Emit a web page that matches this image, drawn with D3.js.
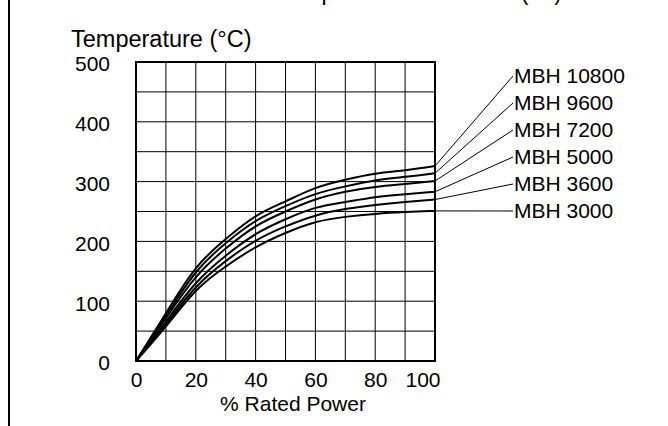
<!DOCTYPE html>
<html>
<head>
<meta charset="utf-8">
<script src="https://cdn.jsdelivr.net/npm/d3@7"></script>
<style>
  html, body { margin: 0; padding: 0; background: #fff; }
  svg { display: block; font-family: "Liberation Sans", Arial, sans-serif; }
</style>
</head>
<body>
<svg id="chart" width="668" height="426"></svg>
<script>
// ---- data ----
const power = [0, 10, 20, 30, 40, 50, 60, 70, 80, 90, 100];
const seriesNames = ["MBH 10800", "MBH 9600", "MBH 7200", "MBH 5000", "MBH 3600", "MBH 3000"];
const mbh10800 = [0, 80, 155, 204, 242, 267, 289, 303, 313, 319, 326];
const mbh9600  = [0, 76, 148, 197, 234, 259, 279, 292, 302, 308, 314];
const mbh7200  = [0, 72, 140, 188, 225, 250, 270, 283, 291, 296, 301];
const mbh5000  = [0, 66, 130, 176, 212, 237, 256, 266, 274, 279, 283];
const mbh3600  = [0, 62, 123, 167, 201, 225, 243, 254, 261, 266, 270];
const mbh3000  = [0, 58, 117, 158, 190, 214, 232, 241, 246, 249, 251];
const seriesValues = [mbh10800, mbh9600, mbh7200, mbh5000, mbh3600, mbh3000];
const xTicks = [0, 20, 40, 60, 80, 100];
const yTicks = [0, 100, 200, 300, 400, 500];
const xGrid = [0, 10, 20, 30, 40, 50, 60, 70, 80, 90, 100];
const yGrid = [0, 50, 100, 150, 200, 250, 300, 350, 400, 450, 500];
const yTitle = "Temperature (°C)";
const xTitle = "% Rated Power";
const topTitle = "Element Sheath Temperature vs. Power (°C)";

// ---- layout ----
const svg = d3.select("#chart");
const pLeft = 136, pRight = 435, pTop = 62, pBottom = 361;
const x = d3.scaleLinear().domain([0, 100]).range([pLeft, pRight]);
const y = d3.scaleLinear().domain([0, 500]).range([pBottom, pTop]);

// outer frame line at left
svg.append("line").attr("x1", 9).attr("x2", 9).attr("y1", 0).attr("y2", 426)
  .attr("stroke", "#000").attr("stroke-width", 2);

// top title, cut off by the picture's upper edge as in the reference
svg.append("text").attr("x", 562).attr("y", 0).attr("text-anchor", "end")
  .attr("font-size", 23).attr("fill", "#000").text(topTitle);

// grid
const g = svg.append("g");
g.selectAll("line.vg").data(xGrid).join("line").attr("class", "vg")
  .attr("x1", d => x(d)).attr("x2", d => x(d)).attr("y1", pTop).attr("y2", pBottom)
  .attr("stroke", "#000").attr("stroke-width", 1);
g.selectAll("line.hg").data(yGrid).join("line").attr("class", "hg")
  .attr("x1", pLeft).attr("x2", pRight).attr("y1", d => y(d)).attr("y2", d => y(d))
  .attr("stroke", "#000").attr("stroke-width", 1);
g.append("rect").attr("x", pLeft).attr("y", pTop).attr("width", pRight - pLeft).attr("height", pBottom - pTop)
  .attr("fill", "none").attr("stroke", "#000").attr("stroke-width", 2);

// curves
const line = d3.line().x((d, i) => x(power[i])).y(d => y(d)).curve(d3.curveNatural);
svg.selectAll("path.curve").data(seriesValues).join("path").attr("class", "curve")
  .attr("d", d => line(d)).attr("fill", "none").attr("stroke", "#000").attr("stroke-width", 2);

// labels with leader lines
const labelX = 513, labelY0 = 76, labelStep = 27;
seriesNames.forEach((name, i) => {
  const vals = seriesValues[i];
  const ly = labelY0 + i * labelStep;
  svg.append("line").attr("x1", x(100)).attr("y1", y(vals[vals.length - 1]))
    .attr("x2", labelX).attr("y2", ly).attr("stroke", "#000").attr("stroke-width", 1);
  svg.append("text").attr("x", labelX + 1).attr("y", ly).attr("dy", "0.35em")
    .attr("font-size", 21).attr("fill", "#000").text(name);
});

// axes
const yAxis = svg.append("g").attr("transform", `translate(${pLeft},0)`)
  .call(d3.axisLeft(y).tickValues(yTicks).tickSize(0).tickPadding(26));
yAxis.select(".domain").remove();
yAxis.selectAll("text").attr("font-size", 21).attr("fill", "#000").attr("dy", "0.42em")
  .attr("font-family", "Liberation Sans, Arial, sans-serif");

const xAxis = svg.append("g").attr("transform", `translate(0,${pBottom})`)
  .call(d3.axisBottom(x).tickValues(xTicks).tickSize(0).tickPadding(11));
xAxis.select(".domain").remove();
xAxis.selectAll("text").attr("font-size", 21).attr("fill", "#000")
  .attr("font-family", "Liberation Sans, Arial, sans-serif");
xAxis.selectAll(".tick").filter(d => d === 100).select("text")
  .attr("text-anchor", "end").attr("x", 5);

// titles
svg.append("text").attr("x", 71).attr("y", 47).attr("font-size", 23.5).attr("fill", "#000").text(yTitle);
svg.append("text").attr("x", 293).attr("y", 411).attr("text-anchor", "middle")
  .attr("font-size", 21).attr("fill", "#000").text(xTitle);
</script>
</body>
</html>
